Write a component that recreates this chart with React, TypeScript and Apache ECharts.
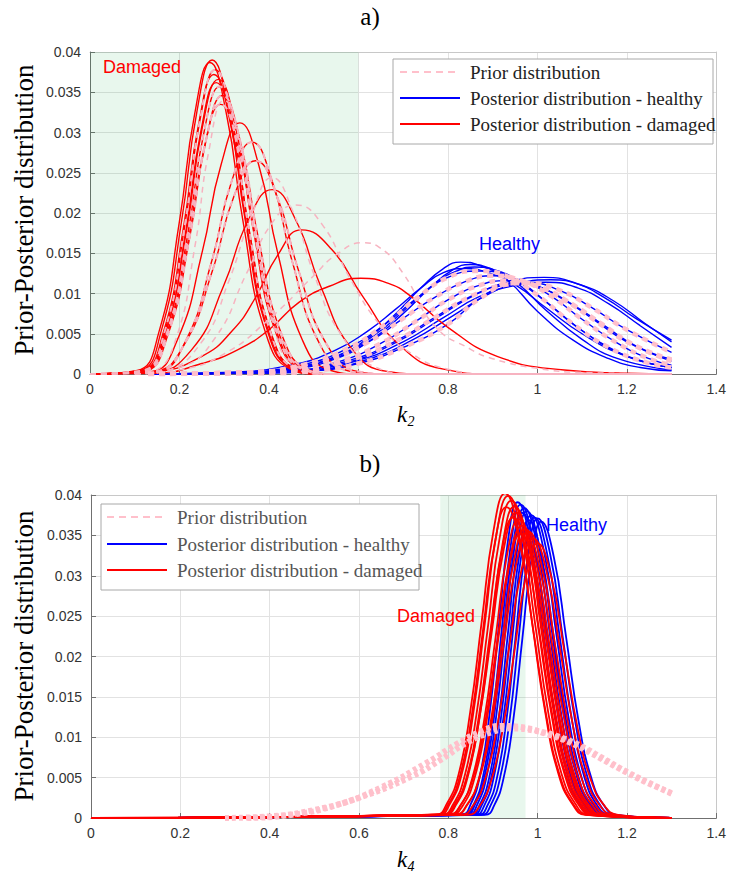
import React, { useEffect, useRef } from "react";
import * as echarts from "echarts";

// ---------- axis ticks ----------
const xTicks = [0, 0.2, 0.4, 0.6, 0.8, 1, 1.2, 1.4];
const yTicks = [0, 0.005, 0.01, 0.015, 0.02, 0.025, 0.03, 0.035, 0.04];

// ---------- shaded "damaged" regions ----------
const shadeA = [0, 0.6];
const shadeB = [0.782, 0.973];

// ---------- panel a) : posterior damaged (red) ----------
const redA: number[][][] = [
  [[0,0],[.108,.0004],[.159,.0053],[.205,.0191],[.239,.0326],[.273,.039],[.31,.0326],[.347,.0191],[.397,.0053],[.453,.0006],[.513,0],[1.3,0]],
  [[0,0],[.103,.0004],[.154,.0052],[.2,.019],[.234,.0323],[.268,.0387],[.305,.0323],[.342,.019],[.392,.0052],[.448,.0006],[.508,0],[1.3,0]],
  [[0,0],[.115,.0004],[.166,.0051],[.212,.0185],[.246,.0316],[.28,.0378],[.317,.0316],[.354,.0185],[.404,.0051],[.46,.0006],[.52,0],[1.3,0]],
  [[0,0],[.114,.0004],[.167,.0049],[.216,.0179],[.251,.0306],[.287,.0366],[.326,.0306],[.365,.0179],[.417,.0049],[.476,.0005],[.54,0],[1.3,0]],
  [[0,0],[.117,.0004],[.17,.0048],[.219,.0175],[.254,.0298],[.29,.0357],[.329,.0298],[.368,.0175],[.42,.0048],[.479,.0005],[.54,0],[1.3,0]],
  [[0,0],[.117,.0004],[.168,.0049],[.214,.0177],[.248,.0302],[.282,.0362],[.319,.0302],[.356,.0177],[.406,.0049],[.462,.0005],[.52,0],[1.3,0]],
  [[0,0],[.118,.0003],[.173,.0047],[.223,.017],[.259,.0289],[.296,.0346],[.336,.0289],[.376,.017],[.43,.0047],[.49,.0005],[.55,0],[1.3,0]],
  [[0,0],[.112,.0004],[.163,.005],[.209,.0182],[.243,.0311],[.277,.0372],[.314,.0311],[.351,.0182],[.401,.005],[.457,.0006],[.52,0],[1.3,0]],
  [[0,0],[.114,.0003],[.169,.0045],[.219,.0164],[.255,.028],[.292,.0335],[.332,.028],[.372,.0164],[.426,.0045],[.486,.0005],[.55,0],[1.3,0]],
  [[0,0],[.135,.0003],[.195,.0042],[.251,.0152],[.293,.026],[.335,.0312],[.377,.026],[.419,.0152],[.475,.0042],[.535,.0005],[.605,0],[1.3,0]],
  [[0,0],[.147,.0003],[.212,.0039],[.272,.014],[.317,.024],[.362,.0288],[.407,.024],[.452,.014],[.512,.0039],[.577,.0004],[.65,0],[1.3,0]],
  [[0,0],[.14,.0003],[.21,.0036],[.274,.0129],[.322,.0221],[.37,.0265],[.418,.0221],[.466,.0129],[.53,.0036],[.6,.0003],[.67,0],[1.3,0]],
  [[0,0],[.137,.0002],[.227,.003],[.299,.011],[.353,.019],[.407,.0229],[.461,.019],[.515,.011],[.587,.003],[.667,.0003],[.75,0],[1.3,0]],
  [[0,0],[.143,.0003],[.25,.0022],[.32,.0055],[.37,.0095],[.42,.0148],[.473,.0179],[.54,.0155],[.61,.0096],[.69,.0037],[.79,.0006],[.9,0],[1.3,0]],
  [[0,0],[.15,.0001],[.25,.0013],[.33,.003],[.4,.0055],[.467,.0089],[.535,.0109],[.605,.0119],[.67,.0112],[.716,.0097],[.8,.0058],[.91,.0022],[1.06,.0005],[1.2,.0001],[1.3,0]],
];

// ---------- panel a) : posterior healthy (blue) ----------
const blueA: number[][][] = [
  [[.13,0],[.3,.0001],[.45,.0008],[.55,.0022],[.62,.0044],[.68,.0073],[.74,.0107],[.79,.0131],[.828,.0139],[.87,.0135],[.93,.0118],[1.0,.0078],[1.08,.0042],[1.16,.0019],[1.23,.0008],[1.3,.0004]],
  [[.13,0],[.3,.0001],[.45,.0006],[.55,.0019],[.63,.0043],[.7,.0075],[.76,.0107],[.81,.0129],[.85,.0136],[.89,.0132],[.95,.0115],[1.02,.0079],[1.1,.0043],[1.18,.0019],[1.3,.0005]],
  [[.13,0],[.3,.0002],[.45,.0011],[.55,.003],[.62,.0053],[.68,.0079],[.74,.0107],[.79,.0126],[.84,.0131],[.89,.0126],[.95,.0111],[1.02,.0082],[1.1,.005],[1.2,.0022],[1.3,.0008]],
  [[.13,0],[.32,.0001],[.46,.0008],[.56,.0024],[.64,.005],[.71,.0083],[.77,.0112],[.82,.0128],[.86,.0133],[.9,.013],[.96,.0115],[1.03,.0085],[1.11,.005],[1.2,.0022],[1.3,.0008]],
  [[.13,0],[.35,.0002],[.48,.0012],[.58,.0033],[.66,.0062],[.73,.0094],[.8,.012],[.87,.0128],[.93,.0122],[1.0,.0098],[1.08,.0062],[1.16,.0033],[1.24,.0015],[1.3,.0008]],
  [[.13,0],[.4,.0003],[.52,.0015],[.62,.0039],[.7,.0069],[.77,.0095],[.84,.0115],[.9,.0122],[.96,.0117],[1.03,.0097],[1.1,.0068],[1.18,.0038],[1.25,.0019],[1.3,.0011]],
  [[.13,0],[.45,.0004],[.56,.0016],[.65,.0038],[.73,.0066],[.8,.0092],[.87,.011],[.93,.0116],[.99,.0111],[1.06,.0092],[1.13,.0066],[1.2,.004],[1.3,.0016]],
  [[.13,0],[.4,.0001],[.5,.0004],[.6,.0013],[.7,.0033],[.8,.0062],[.87,.0093],[.95,.0113],[1.01,.0107],[1.08,.0086],[1.15,.006],[1.22,.0035],[1.3,.0018]],
  [[.13,0],[.45,.0003],[.58,.0015],[.68,.0038],[.77,.0068],[.86,.0098],[.94,.0115],[1.015,.012],[1.08,.0114],[1.15,.0095],[1.22,.0069],[1.3,.0042]],
  [[.13,0],[.5,.0004],[.62,.0018],[.72,.0042],[.81,.0072],[.89,.0099],[.96,.0113],[1.03,.0117],[1.1,.011],[1.17,.0091],[1.24,.0063],[1.3,.004]],
  [[.13,0],[.48,.0004],[.6,.0017],[.7,.004],[.79,.007],[.87,.0096],[.95,.011],[1.02,.0114],[1.09,.0107],[1.16,.0087],[1.23,.006],[1.3,.0033]],
  [[.13,0],[.45,.0004],[.58,.0017],[.68,.004],[.77,.007],[.85,.0096],[.92,.011],[.98,.0113],[1.05,.0104],[1.12,.0083],[1.2,.0055],[1.3,.0027]],
];

// ---------- panel a) : prior distributions (pink dashed) ----------
const priorA: number[][][] = [
  [[.1,0],[.14,.0003],[.19,.004],[.235,.016],[.265,.0275],[.3,.034],[.335,.029],[.37,.018],[.41,.006],[.46,.0008],[.52,0],[1.3,0]],
  [[.1,0],[.16,.0003],[.25,.004],[.31,.0115],[.36,.0195],[.407,.0244],[.455,.02],[.5,.0125],[.56,.005],[.64,.0008],[.72,0],[1.3,0]],
  [[.1,0],[.2,.0008],[.28,.0045],[.35,.0125],[.41,.019],[.46,.021],[.52,.0185],[.58,.012],[.65,.006],[.72,.0025],[.8,.0006],[.9,0],[1.3,0]],
  [[.1,0],[.2,.0005],[.3,.0025],[.4,.0068],[.5,.0122],[.55,.0148],[.61,.0163],[.645,.0158],[.7,.0125],[.77,.006],[.85,.0031],[.9,.0019],[1.0,.0007],[1.1,.0002],[1.3,0]],
];
// priors that coincide with posterior curves (indices into redA / blueA)
const priorOnRedA = [2, 4, 6, 8, 10, 11];
const priorOnBlueA = [4, 5, 6, 7, 11];

// ---------- panel b) : posterior damaged (red) ----------
const redB: number[][][] = [
  [[0,0],[.771,.0004],[.797,.0018],[.823,.0054],[.849,.0131],[.875,.0244],[.901,.0355],[.927,.0402],[.957,.0355],[.987,.0244],[1.017,.0131],[1.047,.0054],[1.077,.0018],[1.107,.0004],[1.3,0]],
  [[0,0],[.774,.0004],[.8,.0017],[.826,.0052],[.852,.0125],[.878,.0234],[.904,.034],[.93,.0385],[.96,.034],[.99,.0234],[1.02,.0125],[1.05,.0052],[1.08,.0017],[1.11,.0004],[1.3,0]],
  [[0,0],[.778,.0004],[.804,.0018],[.83,.0054],[.856,.013],[.882,.0242],[.908,.0352],[.934,.0399],[.964,.0352],[.994,.0242],[1.024,.013],[1.054,.0054],[1.084,.0018],[1.114,.0004],[1.3,0]],
  [[0,0],[.785,.0004],[.811,.0017],[.837,.0053],[.863,.0128],[.889,.0238],[.915,.0347],[.941,.0393],[.971,.0347],[1.001,.0238],[1.031,.0128],[1.061,.0053],[1.091,.0017],[1.121,.0004],[1.3,0]],
  [[0,0],[.789,.0004],[.815,.0016],[.841,.005],[.867,.0121],[.893,.0226],[.919,.0328],[.945,.0372],[.975,.0328],[1.005,.0226],[1.035,.0121],[1.065,.005],[1.095,.0016],[1.125,.0004],[1.3,0]],
  [[0,0],[.792,.0004],[.818,.0017],[.844,.0052],[.87,.0125],[.896,.0234],[.922,.0341],[.948,.0386],[.978,.0341],[1.008,.0234],[1.038,.0125],[1.068,.0052],[1.098,.0017],[1.128,.0004],[1.3,0]],
  [[0,0],[.787,.0004],[.8145,.0017],[.842,.0051],[.8695,.0123],[.897,.0229],[.9245,.0334],[.952,.0378],[.982,.0334],[1.012,.0229],[1.042,.0123],[1.072,.0051],[1.102,.0017],[1.132,.0004],[1.3,0]],
  [[0,0],[.802,.0004],[.828,.0016],[.854,.005],[.88,.012],[.906,.0224],[.932,.0327],[.958,.037],[.988,.0327],[1.018,.0224],[1.048,.012],[1.078,.005],[1.108,.0016],[1.138,.0004],[1.3,0]],
  [[0,0],[.806,.0004],[.832,.0015],[.858,.0048],[.884,.0114],[.91,.0214],[.936,.0311],[.962,.0352],[.992,.0311],[1.022,.0214],[1.052,.0114],[1.082,.0048],[1.112,.0015],[1.142,.0004],[1.3,0]],
  [[0,0],[.8,.0004],[.8275,.0016],[.855,.0049],[.8825,.0118],[.91,.022],[.9375,.032],[.965,.0362],[.995,.032],[1.025,.022],[1.055,.0118],[1.085,.0049],[1.115,.0016],[1.145,.0004],[1.3,0]],
  [[0,0],[.816,.0004],[.842,.0016],[.868,.0048],[.894,.0116],[.92,.0217],[.946,.0316],[.972,.0358],[1.002,.0316],[1.032,.0217],[1.062,.0116],[1.092,.0048],[1.122,.0016],[1.152,.0004],[1.3,0]],
  [[0,0],[.814,.0004],[.8415,.0016],[.869,.0048],[.8965,.0115],[.924,.0215],[.9515,.0313],[.979,.0355],[1.009,.0313],[1.039,.0215],[1.069,.0115],[1.099,.0048],[1.129,.0016],[1.159,.0004],[1.3,0]],
  [[0,0],[.828,.0004],[.855,.0015],[.882,.0047],[.909,.0112],[.936,.021],[.963,.0305],[.99,.0346],[1.02,.0305],[1.05,.021],[1.08,.0112],[1.11,.0047],[1.14,.0015],[1.17,.0004],[1.3,0]],
  [[0,0],[.844,.0004],[.87,.0015],[.896,.0046],[.922,.011],[.948,.0206],[.974,.03],[1.0,.034],[1.03,.03],[1.06,.0206],[1.09,.011],[1.12,.0046],[1.15,.0015],[1.18,.0004],[1.3,0]],
];

// ---------- panel b) : posterior healthy (blue) ----------
const blueB: number[][][] = [
  [[0,0],[.829,.0004],[.85,.0017],[.871,.0053],[.892,.0127],[.913,.0237],[.934,.0345],[.955,.0391],[.983,.0345],[1.011,.0237],[1.039,.0127],[1.067,.0053],[1.095,.0017],[1.123,.0004],[1.3,0]],
  [[0,0],[.836,.0004],[.857,.0017],[.878,.0052],[.899,.0126],[.92,.0235],[.941,.0342],[.962,.0388],[.99,.0342],[1.018,.0235],[1.046,.0126],[1.074,.0052],[1.102,.0017],[1.13,.0004],[1.3,0]],
  [[0,0],[.839,.0004],[.86,.0017],[.881,.0051],[.902,.0123],[.923,.0229],[.944,.0334],[.965,.0378],[.993,.0334],[1.021,.0229],[1.049,.0123],[1.077,.0051],[1.105,.0017],[1.133,.0004],[1.3,0]],
  [[0,0],[.844,.0004],[.865,.0017],[.886,.0052],[.907,.0125],[.928,.0233],[.949,.0339],[.97,.0384],[.998,.0339],[1.026,.0233],[1.054,.0125],[1.082,.0052],[1.11,.0017],[1.138,.0004],[1.3,0]],
  [[0,0],[.85,.0004],[.871,.0017],[.892,.0051],[.913,.0123],[.934,.0231],[.955,.0335],[.976,.038],[1.004,.0335],[1.032,.0231],[1.06,.0123],[1.088,.0051],[1.116,.0017],[1.144,.0004],[1.3,0]],
  [[0,0],[.854,.0004],[.875,.0016],[.896,.005],[.917,.012],[.938,.0224],[.959,.0326],[.98,.0369],[1.008,.0326],[1.036,.0224],[1.064,.012],[1.092,.005],[1.12,.0016],[1.148,.0004],[1.3,0]],
  [[0,0],[.86,.0004],[.881,.0016],[.902,.0051],[.923,.0122],[.944,.0227],[.965,.0331],[.986,.0375],[1.014,.0331],[1.042,.0227],[1.07,.0122],[1.098,.0051],[1.126,.0016],[1.154,.0004],[1.3,0]],
  [[0,0],[.867,.0004],[.888,.0016],[.909,.005],[.93,.0121],[.951,.0226],[.972,.0328],[.993,.0372],[1.021,.0328],[1.049,.0226],[1.077,.0121],[1.105,.005],[1.133,.0016],[1.161,.0004],[1.3,0]],
  [[0,0],[.874,.0004],[.895,.0016],[.916,.005],[.937,.012],[.958,.0225],[.979,.0327],[1.0,.0371],[1.028,.0327],[1.056,.0225],[1.084,.012],[1.112,.005],[1.14,.0016],[1.168,.0004],[1.3,0]],
  [[0,0],[.882,.0004],[.903,.0016],[.924,.005],[.945,.0119],[.966,.0223],[.987,.0324],[1.008,.0367],[1.036,.0324],[1.064,.0223],[1.092,.0119],[1.12,.005],[1.148,.0016],[1.176,.0004],[1.3,0]],
];

// ---------- panel b) : prior distributions (pink thick dashed) ----------
const priorB: number[][][] = [
  [[.3,0],[.4,.0002],[.5,.001],[.6,.0025],[.72,.0052],[.783,.0072],[.844,.0094],[.896,.0106],[.941,.0111],[.993,.0108],[1.046,.0101],[1.098,.0089],[1.143,.0075],[1.204,.0056],[1.263,.004],[1.3,.003]],
  [[.35,0],[.45,.0004],[.55,.0016],[.65,.0038],[.75,.0068],[.82,.0092],[.88,.0109],[.92,.0114],[.97,.0112],[1.02,.0104],[1.07,.0094],[1.12,.008],[1.18,.0062],[1.24,.0045],[1.3,.0031]],
];

// ---------- texts ----------
const titles = ["a)", "b)"];
const xNames = ["2", "4"];
const yName = "Prior-Posterior distribution";
const legendTexts = ["Prior distribution", "Posterior distribution - healthy", "Posterior distribution - damaged"];

const RED = "#ff0000";
const BLUE = "#0000ff";
const PINK = "#ffc0cb";
const PINK_THIN = "#f7b3c0";
const SERIF = '"Liberation Serif", "Times New Roman", serif';
const SANS = '"Liberation Sans", Arial, sans-serif';

const GRIDS = [
  { left: 90, top: 52, width: 627, height: 322 },
  { left: 91, top: 495, width: 626, height: 323 },
];

function buildOption() {
  const fmtX = (v: number) => String(+v.toFixed(1));
  const fmtY = (v: number) => String(+v.toFixed(3));
  const axisColor = "#707070";
  const xAxes: any[] = [];
  const yAxes: any[] = [];
  GRIDS.forEach((_, gi) => {
    xAxes.push({
      type: "value", gridIndex: gi, min: xTicks[0], max: xTicks[xTicks.length - 1], interval: 0.2,
      axisLine: { show: true, onZero: false, lineStyle: { color: axisColor, width: 1 } },
      axisTick: { show: true, inside: true, length: 5, lineStyle: { color: axisColor } },
      axisLabel: { color: "#333", fontSize: 14, fontFamily: SANS, margin: 8, formatter: fmtX },
      splitLine: { show: true, lineStyle: { color: "#e2e2e2", width: 1 } },
    });
    xAxes.push({
      type: "value", gridIndex: gi, position: "top", min: 0, max: 1.4, interval: 0.2,
      axisLine: { show: true, onZero: false, lineStyle: { color: "#c8c8c8" } },
      axisTick: { show: false }, axisLabel: { show: false }, splitLine: { show: false },
    });
    yAxes.push({
      type: "value", gridIndex: gi, min: yTicks[0], max: yTicks[yTicks.length - 1], interval: 0.005,
      axisLine: { show: true, onZero: false, lineStyle: { color: axisColor, width: 1 } },
      axisTick: { show: true, inside: true, length: 5, lineStyle: { color: axisColor } },
      axisLabel: { color: "#333", fontSize: 14, fontFamily: SANS, margin: 9, formatter: fmtY },
      splitLine: { show: true, lineStyle: { color: "#e2e2e2", width: 1 } },
    });
    yAxes.push({
      type: "value", gridIndex: gi, position: "right", min: 0, max: 0.04, interval: 0.005,
      axisLine: { show: true, onZero: false, lineStyle: { color: "#c8c8c8" } },
      axisTick: { show: false }, axisLabel: { show: false }, splitLine: { show: false },
    });
  });

  const line = (data: number[][], ai: number, color: string, width: number, z: number, dash?: any) => ({
    type: "line", xAxisIndex: ai, yAxisIndex: ai, data, symbol: "none", showSymbol: false,
    smooth: 0.5, silent: true, z,
    lineStyle: { color, width, type: dash || "solid", cap: "butt", join: "round" },
  });

  const shade = (range: number[], ai: number) => ({
    type: "line", xAxisIndex: ai, yAxisIndex: ai, data: [[range[0], 0]], symbol: "none",
    lineStyle: { opacity: 0 }, silent: true, z: 1,
    markArea: {
      silent: true, itemStyle: { color: "rgba(0,170,60,0.09)" },
      data: [[{ xAxis: range[0] }, { xAxis: range[1] }]],
    },
  });

  const series: any[] = [
    shade(shadeA, 0),
    shade(shadeB, 2),
    ...blueA.map((d) => line(d, 0, BLUE, 1.4, 3)),
    ...redA.map((d) => line(d, 0, RED, 1.4, 4)),
    ...priorOnRedA.map((i) => line(redA[i], 0, PINK_THIN, 2, 5, [6, 5])),
    ...priorA.map((d) => line(d, 0, PINK_THIN, 1.5, 5, [6, 5])),
    ...priorOnBlueA.map((i) => line(blueA[i], 0, PINK, 4.5, 5, [6, 5])),
    ...blueB.map((d) => line(d, 2, BLUE, 1.8, 3)),
    ...redB.map((d) => line(d, 2, RED, 1.8, 4)),
    ...priorB.map((d) => line(d, 2, PINK, 6, 5, [4, 3])),
  ];

  const legendBox = (x: number, y: number, w: number, h: number, rows: number[], lx: number, tx: number, textColor: string) => ({
    type: "group",
    children: [
      { type: "rect", shape: { x, y, width: w, height: h }, style: { fill: "#fff", stroke: "#a8a8a8", lineWidth: 1 }, z: 10 },
      { type: "line", shape: { x1: lx, y1: rows[0], x2: lx + 60, y2: rows[0] }, style: { stroke: PINK, lineWidth: 2, lineDash: [7, 5] }, z: 11 },
      { type: "line", shape: { x1: lx, y1: rows[1], x2: lx + 60, y2: rows[1] }, style: { stroke: BLUE, lineWidth: 2 }, z: 11 },
      { type: "line", shape: { x1: lx, y1: rows[2], x2: lx + 60, y2: rows[2] }, style: { stroke: RED, lineWidth: 2 }, z: 11 },
      ...legendTexts.map((t, i) => ({
        type: "text", x: tx, y: rows[i], z: 11,
        style: { text: t, fill: textColor, fontSize: 19, fontFamily: SERIF, align: "left", verticalAlign: "middle" },
      })),
    ],
  });

  const label = (t: string, x: number, y: number, color: string) => ({
    type: "text", x, y, z: 12,
    style: { text: t, fill: color, fontSize: 18, fontFamily: SANS, align: "left", verticalAlign: "middle" },
  });

  const graphic: any[] = [
    { type: "text", x: 370, y: 16, style: { text: titles[0], fill: "#000", fontSize: 25, fontFamily: SERIF, align: "center", verticalAlign: "middle" } },
    { type: "text", x: 370, y: 463, style: { text: titles[1], fill: "#000", fontSize: 25, fontFamily: SERIF, align: "center", verticalAlign: "middle" } },
    { type: "text", x: 402, y: 414, style: { text: "k", fill: "#000", fontSize: 23, fontStyle: "italic", fontFamily: SERIF, align: "center", verticalAlign: "middle" } },
    { type: "text", x: 411, y: 421, style: { text: xNames[0], fill: "#000", fontSize: 14, fontStyle: "italic", fontFamily: SERIF, align: "center", verticalAlign: "middle" } },
    { type: "text", x: 402, y: 859, style: { text: "k", fill: "#000", fontSize: 23, fontStyle: "italic", fontFamily: SERIF, align: "center", verticalAlign: "middle" } },
    { type: "text", x: 411, y: 866, style: { text: xNames[1], fill: "#000", fontSize: 14, fontStyle: "italic", fontFamily: SERIF, align: "center", verticalAlign: "middle" } },
    { type: "text", x: 24, y: 210, rotation: Math.PI / 2, style: { text: yName, fill: "#000", fontSize: 27, fontFamily: SERIF, align: "center", verticalAlign: "middle" } },
    { type: "text", x: 24, y: 656, rotation: Math.PI / 2, style: { text: yName, fill: "#000", fontSize: 27, fontFamily: SERIF, align: "center", verticalAlign: "middle" } },
    legendBox(393, 59, 320, 85, [72, 98, 124], 400, 470, "#222"),
    legendBox(101, 504, 318, 86, [517, 544, 570], 107, 177, "#555"),
    label("Damaged", 103, 67, RED),
    label("Healthy", 479, 244, BLUE),
    label("Healthy", 546, 525, BLUE),
    label("Damaged", 397, 616, RED),
  ];

  return {
    animation: false,
    backgroundColor: "#fff",
    grid: GRIDS.map((g) => ({ ...g, containLabel: false })),
    xAxis: xAxes,
    yAxis: yAxes,
    series,
    graphic,
  };
}

export default function App() {
  const ref = useRef<HTMLDivElement>(null);
  useEffect(() => {
    document.body.style.margin = "0";
    const chart = echarts.init(ref.current!, null, { renderer: "svg", width: 729, height: 880 });
    chart.setOption(buildOption() as any);
    return () => chart.dispose();
  }, []);
  return <div ref={ref} style={{ width: 729, height: 880 }} />;
}
